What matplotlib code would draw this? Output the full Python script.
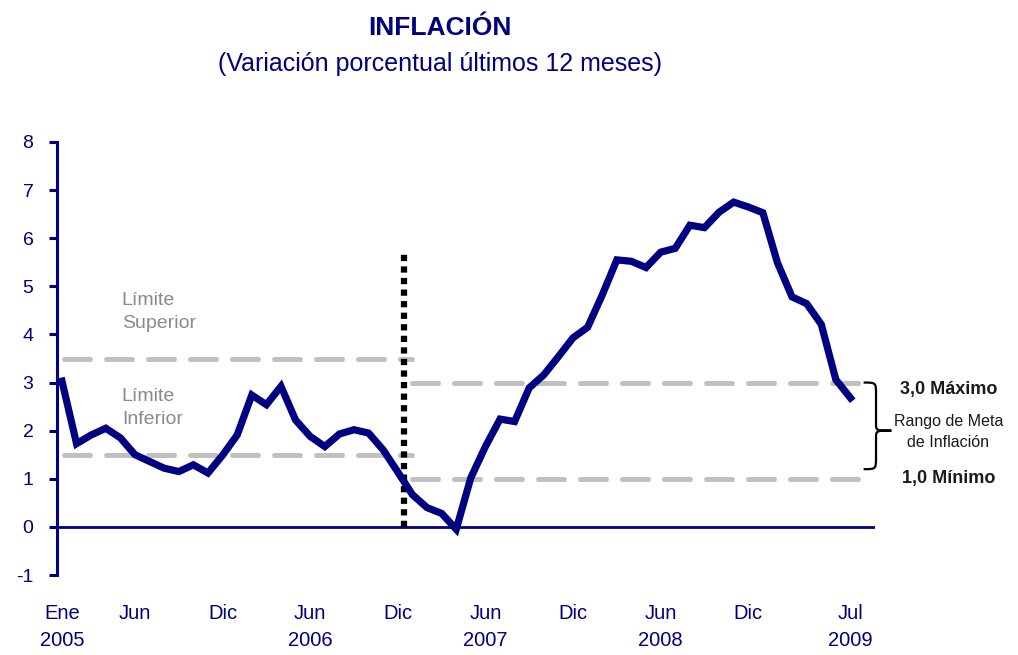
import numpy as np
import matplotlib
matplotlib.use("Agg")
import matplotlib.pyplot as plt
from matplotlib.path import Path
from matplotlib.patches import PathPatch

# monthly 12-month inflation, Jan 2005 .. Jul 2009
inflacion = [3.03, 1.73, 1.91, 2.05, 1.85, 1.50, 1.36, 1.22, 1.15, 1.29, 1.12, 1.49,
             1.91, 2.74, 2.54, 2.92, 2.22, 1.88, 1.67, 1.93, 2.02, 1.95, 1.60, 1.14,
             0.67, 0.40, 0.28, -0.05, 1.02, 1.67, 2.24, 2.19, 2.89, 3.16, 3.54, 3.93,
             4.15, 4.82, 5.55, 5.52, 5.39, 5.71, 5.79, 6.27, 6.22, 6.54, 6.75, 6.65,
             6.53, 5.49, 4.78, 4.64, 4.21, 3.06, 2.68]
tick_pos = [0, 5, 11, 17, 23, 29, 35, 41, 47, 54]
tick_lab = ["Ene\n2005", "Jun\n ", "Dic\n ", "Jun\n2006", "Dic\n ", "Jun\n2007",
            "Dic\n ", "Jun\n2008", "Dic\n ", "Jul\n2009"]
rango_viejo = [1.5, 3.5]
rango_nuevo = [1.0, 3.0]
cambio_meta = 23.2

NAVY = "#000080"
GRIS = "#c0c0c0"
plt.rcParams["font.family"] = ["Liberation Sans", "DejaVu Sans"]

fig = plt.figure(figsize=(10.18, 6.55), dpi=100)
ax = fig.add_axes([57 / 1018, 80 / 655, 818 / 1018, 433 / 655])

x = np.arange(len(inflacion))

# target range lines
for y in rango_viejo:
    ax.plot([0.15, 24.0], [y, y], color=GRIS, lw=3.6, dashes=(5.2, 3.2),
            dash_capstyle="round", zorder=1)
for y in rango_nuevo:
    ax.plot([24.0, 55.3], [y, y], color=GRIS, lw=3.6, dashes=(5.2, 3.2),
            dash_capstyle="round", zorder=1, clip_on=False)

ax.axhline(0, color=NAVY, lw=2.0, zorder=2)
ax.plot([cambio_meta + 0.2, cambio_meta + 0.2], [0, 5.72], color="black", lw=4.5,
        dashes=(1.0, 0.85), dash_capstyle="butt", zorder=3)

ax.plot(x, inflacion, color=NAVY, lw=5.2, solid_joinstyle="miter", zorder=4)

ax.set_xlim(-0.34, 55.68)
ax.set_ylim(-1, 8)
ax.set_yticks(range(-1, 9))
ax.set_yticklabels([str(v) for v in range(-1, 9)])
ax.tick_params(axis="y", colors=NAVY, labelcolor=NAVY, labelsize=14, length=6, width=2.2,
               pad=11, direction="out")
ax.set_xticks(tick_pos)
ax.set_xticklabels(tick_lab, fontsize=14.5, color=NAVY, linespacing=1.55)
ax.tick_params(axis="x", length=0, pad=21)
for s in ["top", "right", "bottom"]:
    ax.spines[s].set_visible(False)
ax.spines["left"].set_color(NAVY)
ax.spines["left"].set_linewidth(2.2)

ax.text(4.1, 4.47, "Límite\nSuperior", color="#8a8a8a", fontsize=14,
        va="center", ha="left", linespacing=1.45)
ax.text(4.1, 2.47, "Límite\nInferior", color="#8a8a8a", fontsize=14,
        va="center", ha="left", linespacing=1.45)

# curly brace for the target range
xa, xm, xt = 54.9, 55.75, 56.8
yt, yc, yb = 3.0, 2.0, 1.2
verts = [(xa, yt), (xm, yt), (xm, yt), (xm, yt - 0.25),
         (xm, yc + 0.15),
         (xm, yc), (xm, yc), (xt, yc),
         (xm, yc), (xm, yc), (xm, yc - 0.15),
         (xm, yb + 0.25),
         (xm, yb), (xm, yb), (xa, yb)]
codes = [Path.MOVETO, Path.CURVE4, Path.CURVE4, Path.CURVE4,
         Path.LINETO,
         Path.CURVE4, Path.CURVE4, Path.CURVE4,
         Path.CURVE4, Path.CURVE4, Path.CURVE4,
         Path.LINETO,
         Path.CURVE4, Path.CURVE4, Path.CURVE4]
ax.add_patch(PathPatch(Path(verts, codes), fill=False, lw=1.6, color="black", clip_on=False))

xr = 60.7
ax.text(xr, 2.85, "3,0 Máximo", fontsize=13, fontweight="bold",
        color="#1a1a1a", ha="center", va="center", clip_on=False)
ax.text(xr, 1.97, "Rango de Meta\nde Inflación", fontsize=11.5,
        color="#1a1a1a", ha="center", va="center", linespacing=1.55, clip_on=False)
ax.text(xr, 1.0, "1,0 Mínimo", fontsize=13, fontweight="bold",
        color="#1a1a1a", ha="center", va="center", clip_on=False)

fig.text(440 / 1018, 1 - 28 / 655, "INFLACIÓN", fontsize=19,
         fontweight="bold", color=NAVY, ha="center", va="center")
fig.text(440 / 1018, 1 - 64 / 655, "(Variación porcentual últimos 12 meses)",
         fontsize=18, color=NAVY, ha="center", va="center")

fig.savefig("out.png", dpi=100)
